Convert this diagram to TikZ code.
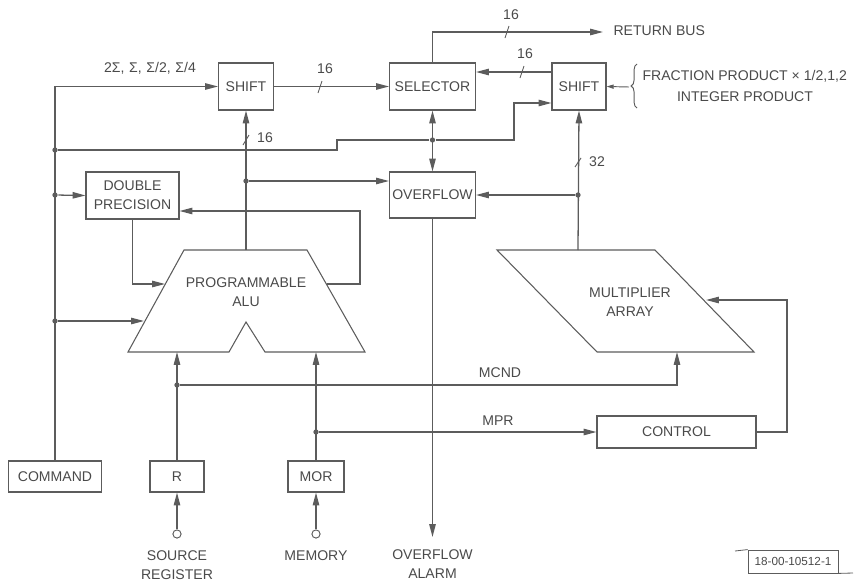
\documentclass[tikz,border=0pt]{standalone}
\usepackage{fontspec}
\setmainfont{Liberation Sans}
\usetikzlibrary{arrows.meta,decorations.pathreplacing}
\definecolor{ink}{HTML}{5C5C5C}
\definecolor{txt}{HTML}{4A4A4A}

\begin{document}
\begin{tikzpicture}[x=0.03cm, y=-0.03cm, line width=1.1pt, color=ink,
    every node/.style={font=\fontsize{12}{16}\selectfont, text=txt, align=center},
    blk/.style={rectangle, draw=ink, line width=0.9pt, inner sep=1pt},
    dot/.style={circle, fill=ink, inner sep=0pt, minimum size=4.5pt},
    port/.style={circle, draw=ink, fill=white, line width=0.8pt, inner sep=0pt, minimum size=7pt},
    >={Triangle[length=11pt,width=5.5pt]}]
  \useasboundingbox (0,0) rectangle (857,585);

  % blocks
  \node[blk, minimum width=1.65cm, minimum height=1.41cm] (shiftA) at (246,86.5) {SHIFT};
  \node[blk, minimum width=2.58cm, minimum height=1.41cm] (sel) at (432.5,86.5) {SELECTOR};
  \node[blk, minimum width=1.62cm, minimum height=1.41cm] (shiftB) at (579,86.5) {SHIFT};
  \node[blk, minimum width=2.58cm, minimum height=1.38cm] (ovf) at (432.5,195) {OVERFLOW};
  \node[blk, minimum width=2.79cm, minimum height=1.41cm] (dprec) at (132.5,195.5) {DOUBLE\\PRECISION};
  \node[blk, minimum width=2.79cm, minimum height=0.93cm] (cmd) at (55,476.5) {COMMAND};
  \node[blk, minimum width=1.62cm, minimum height=0.93cm] (reg) at (177,476.5) {R};
  \node[blk, minimum width=1.68cm, minimum height=0.93cm] (mor) at (316,476.5) {MOR};
  \node[blk, minimum width=4.77cm, minimum height=0.96cm] (ctrl) at (676.5,432) {CONTROL};

  % ALU and multiplier outlines
  \draw[line width=0.9pt] (184,250) -- (307,250) -- (365,352) -- (265,352) -- (246,322)
    -- (229,352) -- (128,352) -- cycle;
  \node (alu) at (246,292) {PROGRAMMABLE\\ALU};
  \draw[line width=0.9pt] (497,250) -- (655,250) -- (754,352) -- (597,352) -- cycle;
  \node (mul) at (630,302) {MULTIPLIER\\ARRAY};

  \coordinate (aluTop) at (246,250);
  \coordinate (aluInR) at (177,352);
  \coordinate (aluInM) at (316,352);
  \coordinate (aluCmd) at (144,321);
  \coordinate (aluDp) at (165,284);
  \coordinate (aluOut) at (327,284);
  \coordinate (mulTop) at (578,250);
  \coordinate (mulIn) at (677,352);
  \coordinate (mulCtl) at (706,300);
  \coordinate (alarm) at (432.5,537);
  \coordinate (retbus) at (603,32);
  \coordinate (brc) at (629,87);

  % junctions and inputs
  \node[dot] (jA) at (55,150) {};
  \node[dot] (jB) at (55,195) {};
  \node[dot] (jC) at (55,321) {};
  \node[dot] (jD) at (246,181) {};
  \node[dot] (jE) at (432.5,140) {};
  \node[dot] (jF) at (578,195) {};
  \node[dot] (jG) at (177,385) {};
  \node[dot] (jH) at (316,432) {};
  \node[port] (src) at (177,534) {};
  \node[port] (mem) at (316,534) {};

  % connections
  \draw[->] (cmd.north) |- (shiftA.west);
  \draw (jA) -- (337,150) -- (337,140) -- (jE);
  \draw[->] (jE) -- (514,140) |- (shiftB.west |- 0,103);
  \draw[->] (jB) -- (dprec.west);
  \draw[->] (jC) -- (aluCmd);
  \draw[->] (shiftA.east) -- (sel.west);
  \draw[->] (shiftB.west |- 0,72) -- (sel.east |- 0,72);
  \draw[->] (sel.north) |- (retbus);
  \draw[<->] (sel.south) -- (ovf.north);
  \draw[->] (ovf.south) -- (alarm);
  \draw[->] (aluTop) -- (shiftA.south);
  \draw[->] (jD) -- (jD -| ovf.west);
  \draw[->] (aluOut) -- (360,284) |- (dprec.east |- 0,211);
  \draw[->] (dprec.south) |- (aluDp);
  \draw[->] (reg.north) -- (aluInR);
  \draw[->] (jG) -| (mulIn);
  \draw[->] (mor.north) -- (aluInM);
  \draw[->] (jH) -- (ctrl.west);
  \draw[->] (ctrl.east) -- (787,432) |- (mulCtl);
  \draw[->] (mulTop) -- (shiftB.south);
  \draw[->] (jF) -- (jF -| ovf.east);
  \draw[->] (src) -- (reg.south);
  \draw[->] (mem) -- (mor.south);
  \draw[-{Triangle[length=6pt,width=3.5pt]}, line width=0.8pt] (brc) -- (shiftB.east);
  \draw[decorate, decoration={brace, amplitude=5pt}, line width=0.8pt] (637,108) -- (637,64);

  % bus width ticks
  \draw[line width=0.8pt] (318,93) -- (322,81);
  \draw[line width=0.8pt] (505,38) -- (509,26);
  \draw[line width=0.8pt] (520,78) -- (524,66);
  \draw[line width=0.8pt] (243,145) -- (249,135);
  \draw[line width=0.8pt] (575,167) -- (581,158);

  % labels
  \node (lsum) at (150,68) {2Σ,\,\,Σ,\,\,Σ/2,\,\,Σ/4};
  \node (w1) at (325,69) {16};
  \node (w2) at (265,138) {16};
  \node (w3) at (511,15) {16};
  \node (w4) at (525,54) {16};
  \node (w5) at (597,162) {32};
  \node[anchor=west] (lret) at (609,31) {RETURN BUS};
  \node[anchor=west] (lfrac) at (638,76) {FRACTION PRODUCT × 1/2,1,2};
  \node (lint) at (745,97) {INTEGER PRODUCT};
  \node (lmcnd) at (500,373) {MCND};
  \node (lmpr) at (498,421) {MPR};
  \node (lsrc) at (177,565) {SOURCE\\REGISTER};
  \node (lmem) at (316,556) {MEMORY};
  \node (lalm) at (432.5,564) {OVERFLOW\\ALARM};

  % figure number
  \node[draw=ink, line width=0.7pt, font=\fontsize{10}{12}\selectfont,
    minimum width=2.7cm, minimum height=0.69cm, inner sep=0pt] (fig) at (793,561.5) {18-00-10512-1};
  \draw[line width=0.7pt] (735,551) -- (fig.north west);
  \draw[line width=0.7pt] (fig.south east) -- (853,573);
\end{tikzpicture}
\end{document}
